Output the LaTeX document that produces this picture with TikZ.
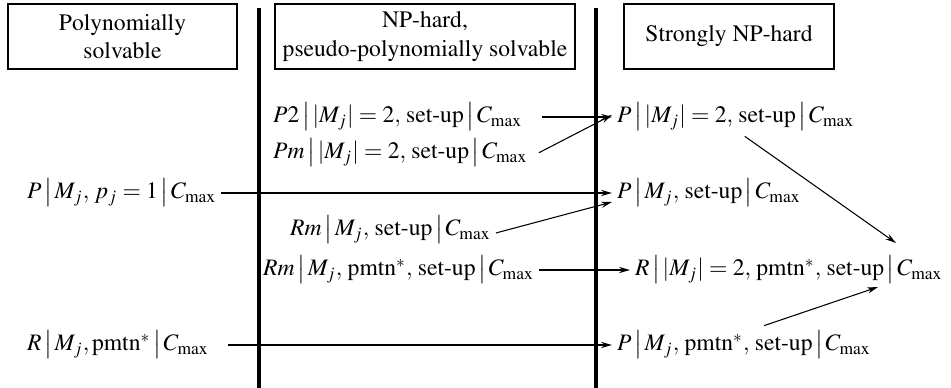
\documentclass[tikz,border=0pt]{standalone}
\usepackage[T1]{fontenc}
\usepackage{mathptmx}
\usepackage{amsmath}
\usetikzlibrary{calc,arrows.meta}

\newcommand{\vb}{\,\big|\,}
\newcommand{\Cm}{C_{\max}}
\def\px{0.4237pt}

\tikzset{
  headbox/.style={draw, line width=1.05pt, align=center, minimum height=65*\px},
  prob/.style={anchor=west, inner sep=2pt},
  colline/.style={line width=1.35pt},
  thickarr/.style={-{Stealth[length=4.6pt,width=2.6pt]}, line width=1pt},
  thinarr/.style={-{Stealth[length=4.6pt,width=2.6pt]}, line width=0.45pt},
}

\begin{document}
\begin{tikzpicture}[x=\px, y=-\px]
  \useasboundingbox (0,0) rectangle (951,388);

  % Column dividers
  \draw[colline] (259,8) -- (259,388);
  \draw[colline] (596,8) -- (596,388);

  % Headings
  \node[headbox, minimum width=229*\px] (hpoly) at (122.5,36.5) {Polynomially\\solvable};
  \node[headbox, minimum width=300*\px] (hpseudo) at (425,36.5) {NP-hard,\\pseudo-polynomially solvable};
  \node[headbox, minimum width=210*\px] (hstrong) at (729,36.5) {Strongly NP-hard};

  % Problems, left and middle
  \node[prob] (pone)  at (22,193)  {$P\vb M_j,\, p_j=1\vb \Cm$};
  \node[prob] (rpm)   at (22,345)  {$R\vb M_j,\text{pmtn}^*\vb \Cm$};
  \node[prob] (ptwo)  at (268,117) {$P2\vb |M_j|=2,\,\text{set-up}\vb \Cm$};
  \node[prob] (pmset) at (268,153) {$Pm\vb |M_j|=2,\,\text{set-up}\vb \Cm$};
  \node[prob] (rmset) at (285,230) {$Rm\vb M_j,\,\text{set-up}\vb \Cm$};
  \node[prob] (rmpm)  at (258,270) {$Rm\vb M_j,\,\text{pmtn}^*,\,\text{set-up}\vb \Cm$};

  % Problems, right
  \node[prob] (ptwoset) at (612,117) {$P\vb |M_j|=2,\,\text{set-up}\vb \Cm$};
  \node[prob] (pset)    at (612,193) {$P\vb M_j,\,\text{set-up}\vb \Cm$};
  \node[prob] (rtwo)    at (630,270) {$R\vb |M_j|=2,\,\text{pmtn}^*,\,\text{set-up}\vb \Cm$};
  \node[prob] (ppmset)  at (612,345) {$P\vb M_j,\,\text{pmtn}^*,\,\text{set-up}\vb \Cm$};

  \coordinate (rtop)  at (896,243);
  \coordinate (rleft) at (878,287);

  % Reductions
  \draw[thickarr] (pone) -- (pset);
  \draw[thickarr, shorten <=6pt] (rpm) -- (ppmset);
  \draw[thickarr, shorten <=6pt] (ptwo) -- (ptwoset);
  \draw[thinarr, shorten <=3pt] ([yshift=-3*\px]pmset.east) -- ([yshift=2*\px]ptwoset.west);
  \draw[thinarr] ([yshift=-3*\px]rmset.east) -- ($(pset.west)+(0,9)$);
  \draw[thickarr] (rmpm) -- (rtwo);
  \draw[thinarr] ([xshift=9*\px]ptwoset.south) -- (rtop);
  \draw[thinarr] ([xshift=20*\px]ppmset.north) -- (rleft);
\end{tikzpicture}
\end{document}
